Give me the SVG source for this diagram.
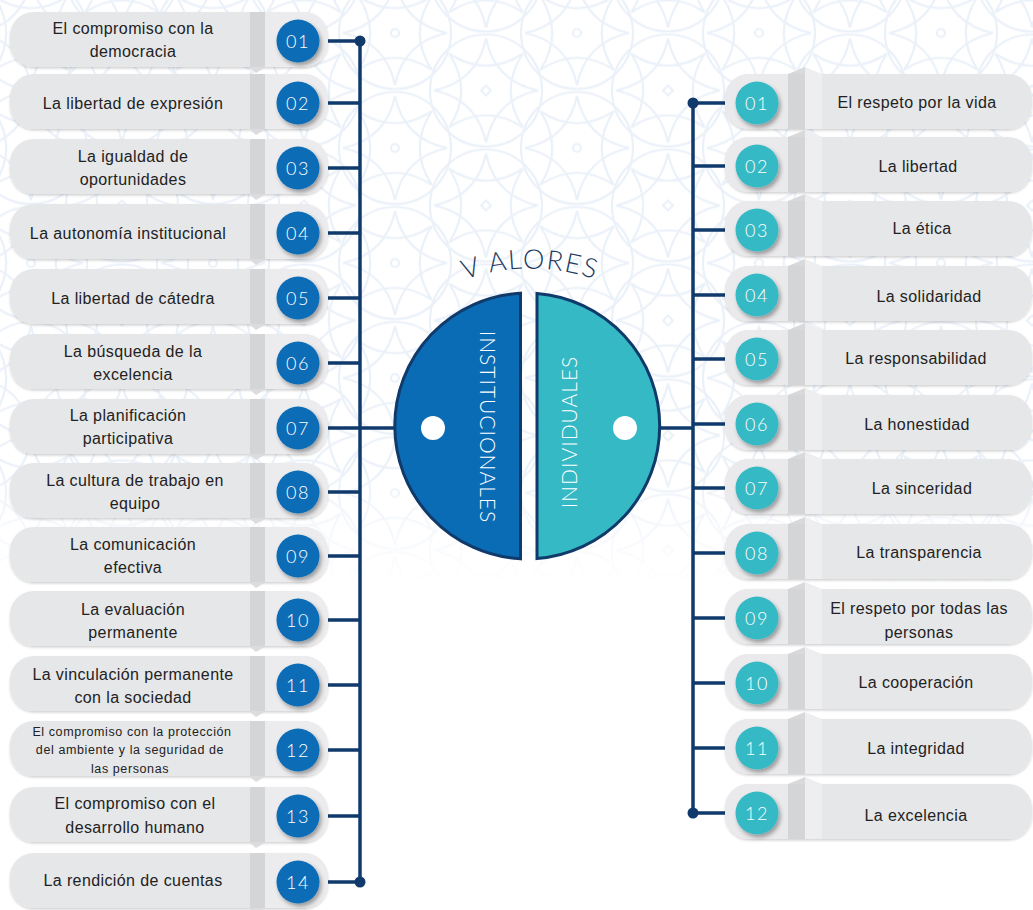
<svg xmlns="http://www.w3.org/2000/svg" xmlns:xlink="http://www.w3.org/1999/xlink" width="1033" height="910" viewBox="0 0 1033 910">
<style>
.t{font-family:"Liberation Sans",Arial,sans-serif;font-size:16px;fill:#222;letter-spacing:0.4px;text-anchor:middle;dominant-baseline:central}
.ts{font-size:12.5px;letter-spacing:0.6px}
.n{font-family:Lato,"Open Sans",sans-serif;font-weight:300;font-size:18px;fill:#fff;letter-spacing:1.5px;text-anchor:middle;dominant-baseline:central}
.cb{fill:#0b6cb6}
.ct{fill:#35b9c5}
.ln{stroke:#0f3a6b;stroke-width:3.5;fill:none}
.dot{fill:#0f3a6b}
.pm{fill:none;stroke:#ebf1f9;stroke-width:2.2}
.ctr{font-family:Lato,"Open Sans",sans-serif;font-weight:300;font-size:21px;fill:#fff;letter-spacing:1px;text-anchor:middle;dominant-baseline:central}
</style>
<defs>
<filter id="sh" x="-30%" y="-30%" width="170%" height="170%"><feDropShadow dx="2" dy="3" stdDeviation="2" flood-color="#000" flood-opacity="0.35"/></filter>
<filter id="bs" x="-5%" y="-20%" width="110%" height="150%"><feDropShadow dx="0" dy="1.5" stdDeviation="1.2" flood-color="#000" flood-opacity="0.18"/></filter>
<path id="star4" d="M0,-52 Q9,-9 52,0 Q9,9 0,52 Q-9,9 -52,0 Q-9,-9 0,-52 Z"/>
<g id="motif" class="pm"><circle r="56"/><use xlink:href="#star4"/><use xlink:href="#star4" transform="rotate(45)"/></g>
<pattern id="pat" patternUnits="userSpaceOnUse" x="304" y="-24.5" width="182" height="115">
<use xlink:href="#motif" x="91" y="57.5"/><circle class="pm" cx="91" cy="57.5" r="4"/>
<use xlink:href="#motif" x="0" y="0"/><use xlink:href="#motif" x="182" y="0"/><use xlink:href="#motif" x="0" y="115"/><use xlink:href="#motif" x="182" y="115"/>
<path class="pm" d="M0,-5 L5,0 0,5 -5,0Z M182,-5 L187,0 182,5 177,0Z M0,110 L5,115 0,120 -5,115Z M182,110 L187,115 182,120 177,115Z"/>
</pattern>
<linearGradient id="fade" gradientUnits="userSpaceOnUse" x1="0" y1="0" x2="0" y2="600"><stop offset="0.78" stop-color="#fff"/><stop offset="0.98" stop-color="#000"/></linearGradient>
<mask id="fm"><rect width="1033" height="600" fill="url(#fade)"/></mask>
<g id="boxL">
<rect x="10" y="-29" width="318" height="55" rx="24" fill="#e6e7e9" filter="url(#bs)"/>
<rect x="250" y="-29" width="15" height="55" fill="#d4d5d7"/>
<path d="M265,-29 H304 A24,24 0 0 1 328,-5 V2 A24,24 0 0 1 304,26 H265 Z" fill="#ececee"/>
<path d="M249,26 L266,26 L256,32 Z" fill="#dcdcde"/>
</g>
<g id="boxR">
<rect x="725" y="-29" width="307" height="55" rx="24" fill="#e6e7e9" filter="url(#bs)"/>
<path d="M788,-29 H749 A24,24 0 0 0 725,-5 V2 A24,24 0 0 0 749,26 H788 Z" fill="#eaeaec"/>
<rect x="788" y="-29" width="17" height="55" fill="#d4d5d7"/>
<rect x="805" y="-29" width="17" height="55" fill="#eeeef0"/>
<path d="M788,-29 L805,-36 L805,-29 Z" fill="#d9d9db"/>
<path d="M805,-36 L822,-29 L805,-29 Z" fill="#eeeef0"/>
</g>
</defs>
<rect width="1033" height="910" fill="#fff"/>
<rect width="1033" height="600" fill="url(#pat)" mask="url(#fm)"/>

<g id="connectors">
<line class="ln" x1="360" y1="41" x2="360" y2="882"/>
<circle class="dot" cx="360" cy="41" r="5.5"/><circle class="dot" cx="360" cy="882" r="5.5"/>
<line class="ln" x1="693" y1="103" x2="693" y2="813"/>
<circle class="dot" cx="693" cy="103" r="5.5"/><circle class="dot" cx="693" cy="813" r="5.5"/>
<line class="ln" x1="360" y1="428" x2="395" y2="428"/>
<line class="ln" x1="658" y1="428" x2="693" y2="428"/>
<path class="ln" d="M318,41H360 M318,103H360 M318,168H360 M318,233H360 M318,298H360 M318,363H360 M318,428H360 M318,492H360 M318,556H360 M318,620H360 M318,685H360 M318,750H360 M318,816H360 M318,882H360"/>
<path class="ln" d="M693,103H738 M693,166H738 M693,230H738 M693,295H738 M693,359H738 M693,424H738 M693,488H738 M693,553H738 M693,618H738 M693,683H738 M693,748H738 M693,813H738"/>
</g>

<g id="inst-01" transform="translate(0,41)"><use xlink:href="#boxL"/><text class="t" x="133" y="-13">El compromiso con la</text><text class="t" x="133" y="10">democracia</text><circle class="cb" cx="298" r="21.5" filter="url(#sh)"/><text class="n" x="298">01</text></g>
<g id="inst-02" transform="translate(0,103)"><use xlink:href="#boxL"/><text class="t" x="133" y="0">La libertad de expresión</text><circle class="cb" cx="298" r="21.5" filter="url(#sh)"/><text class="n" x="298">02</text></g>
<g id="inst-03" transform="translate(0,168)"><use xlink:href="#boxL"/><text class="t" x="133" y="-12">La igualdad de</text><text class="t" x="133" y="11">oportunidades</text><circle class="cb" cx="298" r="21.5" filter="url(#sh)"/><text class="n" x="298">03</text></g>
<g id="inst-04" transform="translate(0,233)"><use xlink:href="#boxL"/><text class="t" x="128" y="0">La autonomía institucional</text><circle class="cb" cx="298" r="21.5" filter="url(#sh)"/><text class="n" x="298">04</text></g>
<g id="inst-05" transform="translate(0,298)"><use xlink:href="#boxL"/><text class="t" x="133" y="0">La libertad de cátedra</text><circle class="cb" cx="298" r="21.5" filter="url(#sh)"/><text class="n" x="298">05</text></g>
<g id="inst-06" transform="translate(0,363)"><use xlink:href="#boxL"/><text class="t" x="133" y="-12">La búsqueda de la</text><text class="t" x="133" y="11">excelencia</text><circle class="cb" cx="298" r="21.5" filter="url(#sh)"/><text class="n" x="298">06</text></g>
<g id="inst-07" transform="translate(0,428)"><use xlink:href="#boxL"/><text class="t" x="128" y="-13">La planificación</text><text class="t" x="128" y="10">participativa</text><circle class="cb" cx="298" r="21.5" filter="url(#sh)"/><text class="n" x="298">07</text></g>
<g id="inst-08" transform="translate(0,492)"><use xlink:href="#boxL"/><text class="t" x="135" y="-12">La cultura de trabajo en</text><text class="t" x="135" y="11">equipo</text><circle class="cb" cx="298" r="21.5" filter="url(#sh)"/><text class="n" x="298">08</text></g>
<g id="inst-09" transform="translate(0,556)"><use xlink:href="#boxL"/><text class="t" x="133" y="-12">La comunicación</text><text class="t" x="133" y="11">efectiva</text><circle class="cb" cx="298" r="21.5" filter="url(#sh)"/><text class="n" x="298">09</text></g>
<g id="inst-10" transform="translate(0,620)"><use xlink:href="#boxL"/><text class="t" x="133" y="-11">La evaluación</text><text class="t" x="133" y="12">permanente</text><circle class="cb" cx="298" r="21.5" filter="url(#sh)"/><text class="n" x="298">10</text></g>
<g id="inst-11" transform="translate(0,685)"><use xlink:href="#boxL"/><text class="t" x="133" y="-11">La vinculación permanente</text><text class="t" x="133" y="12">con la sociedad</text><circle class="cb" cx="298" r="21.5" filter="url(#sh)"/><text class="n" x="298">11</text></g>
<g id="inst-12" transform="translate(0,750)"><use xlink:href="#boxL"/><text class="t ts" x="132" y="-18">El compromiso con la protección</text><text class="t ts" x="130" y="0">del ambiente y la seguridad de</text><text class="t ts" x="130" y="19">las personas</text><circle class="cb" cx="298" r="21.5" filter="url(#sh)"/><text class="n" x="298">12</text></g>
<g id="inst-13" transform="translate(0,816)"><use xlink:href="#boxL"/><text class="t" x="135" y="-13">El compromiso con el</text><text class="t" x="135" y="11">desarrollo humano</text><circle class="cb" cx="298" r="21.5" filter="url(#sh)"/><text class="n" x="298">13</text></g>
<g id="inst-14" transform="translate(0,882)"><use xlink:href="#boxL"/><text class="t" x="133" y="-2">La rendición de cuentas</text><circle class="cb" cx="298" r="21.5" filter="url(#sh)"/><text class="n" x="298">14</text></g>

<g id="ind-01" transform="translate(0,103)"><use xlink:href="#boxR"/><text class="t" x="917" y="-1">El respeto por la vida</text><circle class="ct" cx="757" r="21.5" filter="url(#sh)"/><text class="n" x="757">01</text></g>
<g id="ind-02" transform="translate(0,166)"><use xlink:href="#boxR"/><text class="t" x="918" y="0">La libertad</text><circle class="ct" cx="757" r="21.5" filter="url(#sh)"/><text class="n" x="757">02</text></g>
<g id="ind-03" transform="translate(0,230)"><use xlink:href="#boxR"/><text class="t" x="922" y="-2">La ética</text><circle class="ct" cx="757" r="21.5" filter="url(#sh)"/><text class="n" x="757">03</text></g>
<g id="ind-04" transform="translate(0,295)"><use xlink:href="#boxR"/><text class="t" x="929" y="1">La solidaridad</text><circle class="ct" cx="757" r="21.5" filter="url(#sh)"/><text class="n" x="757">04</text></g>
<g id="ind-05" transform="translate(0,359)"><use xlink:href="#boxR"/><text class="t" x="916" y="-1">La responsabilidad</text><circle class="ct" cx="757" r="21.5" filter="url(#sh)"/><text class="n" x="757">05</text></g>
<g id="ind-06" transform="translate(0,424)"><use xlink:href="#boxR"/><text class="t" x="917" y="0">La honestidad</text><circle class="ct" cx="757" r="21.5" filter="url(#sh)"/><text class="n" x="757">06</text></g>
<g id="ind-07" transform="translate(0,488)"><use xlink:href="#boxR"/><text class="t" x="922" y="0">La sinceridad</text><circle class="ct" cx="757" r="21.5" filter="url(#sh)"/><text class="n" x="757">07</text></g>
<g id="ind-08" transform="translate(0,553)"><use xlink:href="#boxR"/><text class="t" x="919" y="-1">La transparencia</text><circle class="ct" cx="757" r="21.5" filter="url(#sh)"/><text class="n" x="757">08</text></g>
<g id="ind-09" transform="translate(0,618)"><use xlink:href="#boxR"/><text class="t" x="919" y="-10">El respeto por todas las</text><text class="t" x="919" y="14">personas</text><circle class="ct" cx="757" r="21.5" filter="url(#sh)"/><text class="n" x="757">09</text></g>
<g id="ind-10" transform="translate(0,683)"><use xlink:href="#boxR"/><text class="t" x="916" y="-1">La cooperación</text><circle class="ct" cx="757" r="21.5" filter="url(#sh)"/><text class="n" x="757">10</text></g>
<g id="ind-11" transform="translate(0,748)"><use xlink:href="#boxR"/><text class="t" x="916" y="0">La integridad</text><circle class="ct" cx="757" r="21.5" filter="url(#sh)"/><text class="n" x="757">11</text></g>
<g id="ind-12" transform="translate(0,813)"><use xlink:href="#boxR"/><text class="t" x="916" y="2">La excelencia</text><circle class="ct" cx="757" r="21.5" filter="url(#sh)"/><text class="n" x="757">12</text></g>

<g id="center">
<path id="arcV" d="M440,290 A200,200 0 0 1 620,290" fill="none"/>
<text font-family="Lato,'Open Sans',sans-serif" font-weight="300" font-size="27" fill="#1d3a5e" letter-spacing="1.5" text-anchor="middle"><textPath xlink:href="#arcV" startOffset="50%">V ALORES</textPath></text>
<path d="M520.5,293.2 L520.5,558.8 A133,133 0 0 1 520.5,293.2 Z" fill="#0b6cb6" stroke="#0f3a6a" stroke-width="3"/>
<path d="M537,293.4 A133,133 0 0 1 537,558.6 Z" fill="#35b9c5" stroke="#0f3a6a" stroke-width="3"/>
<circle cx="433" cy="428" r="12" fill="#fff"/>
<circle cx="625" cy="428" r="12" fill="#fff"/>
<text class="ctr" transform="translate(488,427) rotate(90)">INSTITUCIONALES</text>
<text class="ctr" transform="translate(568,432) rotate(-90)">INDIVIDUALES</text>
</g>
</svg>
